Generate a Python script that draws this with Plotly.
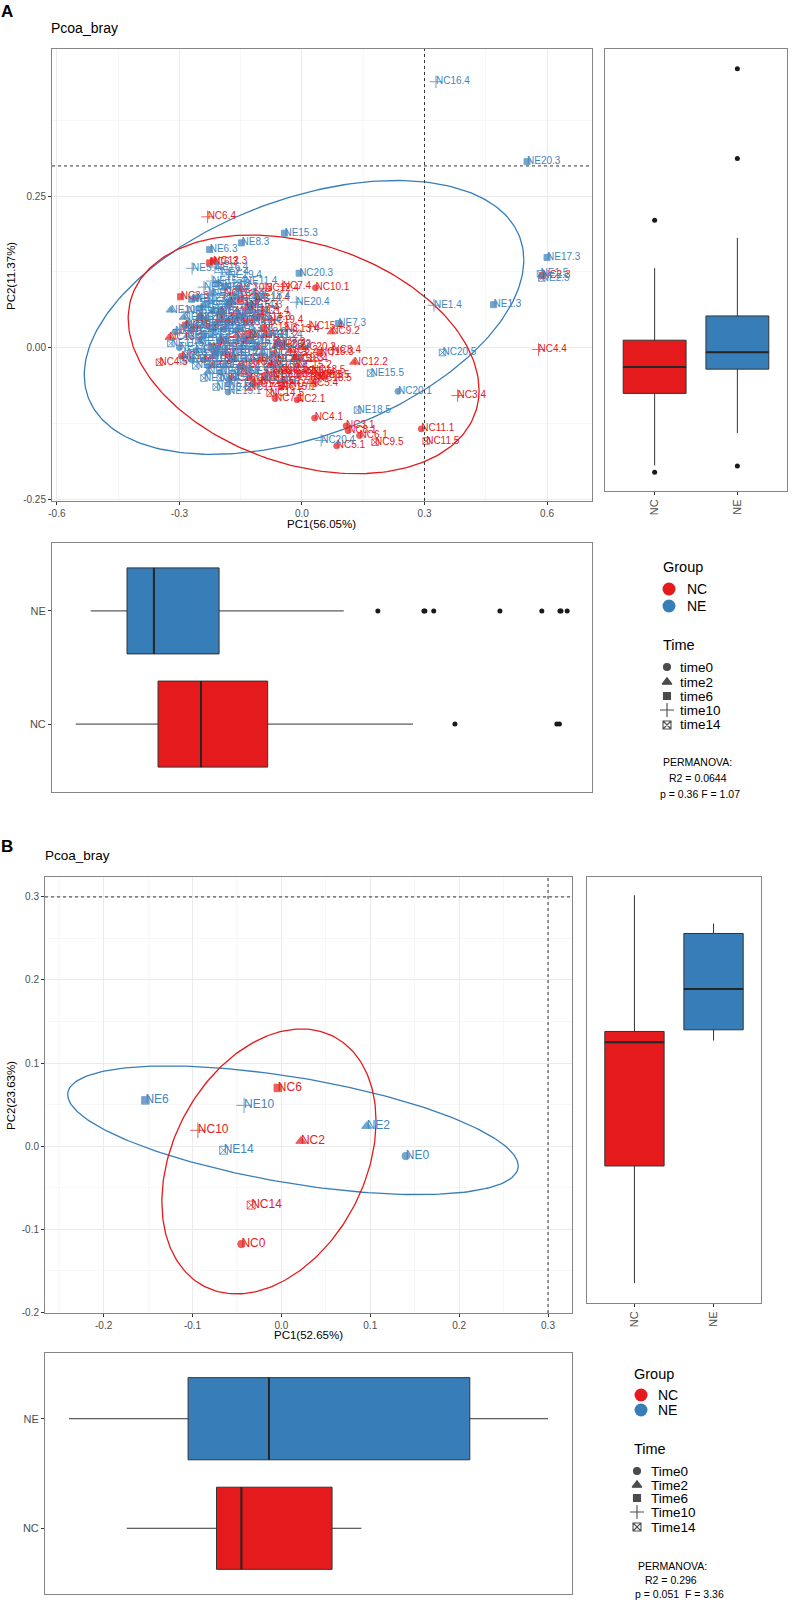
import numpy as np
import plotly.graph_objects as go

W, H = 794, 1603
RED = "#E41A1C"
BLUE = "#377EB8"
FONT = "Liberation Sans, Arial, sans-serif"
GRID = "#EBEBEB"
MINOR = "#F3F3F3"
FRAME = "#858585"
TICKC = "#4D4D4D"
BOXLINE = "#333333"

# ===================== PANEL A : PCoA scores =====================
a_ne_labels = [
    "NE1.1", "NE2.1", "NE3.1", "NE4.1", "NE5.1", "NE6.1", "NE7.1", "NE8.1", "NE9.1", "NE10.1",
    "NE11.1", "NE12.1", "NE13.1", "NE14.1", "NE15.1", "NE16.1", "NE17.1", "NE18.1", "NE19.1", "NC20.1",
    "NE1.2", "NE2.2", "NE3.2", "NE4.2", "NE5.2", "NE6.2", "NE7.2", "NE8.2", "NE9.2", "NE10.2",
    "NE11.2", "NE12.2", "NE13.2", "NE14.2", "NE15.2", "NE16.2", "NE17.2", "NE18.2", "NE19.2", "NE20.2",
    "NE1.3", "NE2.3", "NE3.3", "NE4.3", "NE5.3", "NE6.3", "NE7.3", "NE8.3", "NE9.3", "NE10.3",
    "NE11.3", "NE12.3", "NE13.3", "NE14.3", "NE15.3", "NE16.3", "NE17.3", "NE18.3", "NE19.3", "NE20.3", "NC20.3",
    "NE1.4", "NE2.4", "NE3.4", "NE4.4", "NE5.4", "NE6.4", "NE7.4", "NE8.4", "NE9.4", "NE10.4",
    "NE11.4", "NE12.4", "NE13.4", "NE14.4", "NE15.4", "NE16.4", "NE17.4", "NE18.4", "NE19.4", "NE20.4", "NC16.4", "NC20.4",
    "NE1.5", "NE2.5", "NE3.5", "NE4.5", "NE5.5", "NE6.5", "NE7.5", "NE8.5", "NE9.5", "NE10.5",
    "NE11.5", "NE12.5", "NE13.5", "NE14.5", "NE15.5", "NE16.5", "NE17.5", "NE18.5", "NE19.5", "NE20.5", "NC20.5",
]
a_ne_pc1 = [
    -0.24, -0.21, -0.27, -0.19, -0.23, -0.16, -0.28, -0.20, -0.311, -0.25,
    -0.14, -0.22, -0.30, -0.18, -0.181, -0.12, -0.26, -0.23, -0.17, 0.235,
    -0.25, -0.17, -0.21, -0.13, -0.28, -0.19, -0.15, -0.24, -0.10, -0.322,
    -0.22, -0.29, -0.16, -0.20, -0.07, -0.09, -0.26, -0.12, -0.23, -0.06,
    0.469, -0.22, -0.18, -0.25, -0.15, -0.226, 0.089, -0.148, -0.20, -0.27,
    -0.17, -0.26, -0.24, -0.13, -0.043, -0.21, 0.600, -0.208, -0.189, 0.551, -0.007,
    0.323, -0.198, -0.24, -0.16, -0.269, -0.28, -0.19, -0.12, -0.23, -0.26,
    -0.14, -0.20, -0.08, -0.17, -0.22, -0.213, -0.30, -0.11, -0.18, -0.014, 0.328, 0.047,
    0.584, 0.587, -0.26, -0.20, -0.23, -0.15, -0.11, -0.28, -0.17, -0.24,
    -0.321, -0.19, -0.13, -0.22, 0.168, -0.29, -0.08, 0.136, -0.21, -0.16, 0.344,
]
a_ne_pc2 = [
    0.020, -0.010, -0.020, 0.030, -0.030, 0.010, 0.040, -0.040, 0.026, 0.050,
    -0.020, 0.060, 0.000, -0.060, -0.073, 0.000, -0.005, 0.035, 0.045, -0.072,
    0.010, -0.020, 0.040, 0.060, 0.020, -0.030, 0.000, 0.070, -0.010, 0.062,
    -0.015, 0.050, 0.030, 0.015, -0.030, -0.051, 0.035, 0.025, -0.040, 0.005,
    0.071, 0.090, 0.075, 0.065, 0.050, 0.162, 0.040, 0.173, 0.055, 0.080,
    0.085, 0.082, 0.045, 0.070, 0.189, -0.005, 0.149, 0.105, 0.100, 0.307, 0.123,
    0.070, 0.124, 0.100, 0.090, 0.131, 0.060, 0.065, 0.045, 0.075, 0.015,
    0.110, 0.030, 0.020, -0.010, 0.110, 0.133, 0.030, 0.085, 0.120, 0.075, 0.439, -0.153,
    0.122, 0.115, -0.030, -0.050, 0.000, -0.035, 0.015, -0.010, -0.045, -0.050,
    0.007, 0.005, -0.040, 0.025, -0.042, -0.020, -0.020, -0.103, -0.065, 0.055, -0.008,
]

a_nc_labels = [
    "NC1.1", "NC2.1", "NC3.1", "NC4.1", "NC5.1", "NC6.1", "NC7.1", "NC8.1", "NC9.1", "NC10.1",
    "NC11.1", "NC12.1", "NC13.1", "NC14.1", "NC15.1", "NC16.1", "NC17.1", "NC18.1", "NC19.1",
    "NC1.2", "NC2.2", "NC3.2", "NC4.2", "NC5.2", "NC6.2", "NC7.2", "NC8.2", "NC9.2", "NC10.2",
    "NC11.2", "NC12.2", "NC13.2", "NC14.2", "NC15.2", "NC16.2", "NC17.2", "NC18.2", "NC19.2", "NC20.2",
    "NC1.3", "NC2.3", "NC3.3", "NC4.3", "NC5.3", "NC6.3", "NC7.3", "NC8.3", "NC9.3", "NC10.3",
    "NC11.3", "NC12.3", "NC13.3", "NC14.3", "NC15.3", "NC16.3", "NC17.3", "NC18.3", "NC19.3",
    "NC1.4", "NC2.4", "NC3.4", "NC4.4", "NC5.4", "NC6.4", "NC7.4", "NC8.4", "NC9.4", "NC10.4",
    "NC11.4", "NC12.4", "NC13.4", "NC14.4", "NC15.4", "NC17.4", "NC18.4", "NC19.4",
    "NC1.5", "NC2.5", "NC3.5", "NC4.5", "NC5.5", "NC6.5", "NC7.5", "NC8.5", "NC9.5", "NC10.5",
    "NC11.5", "NC12.5", "NC13.5", "NC14.5", "NC15.5", "NC16.5", "NC17.5", "NC18.5", "NC19.5",
]
a_nc_pc1 = [
    -0.184, -0.012, 0.108, 0.031, 0.085, 0.141, -0.066, 0.113, -0.137, 0.033,
    0.292, -0.12, -0.09, -0.20, -0.05, -0.176, -0.15, -0.24, -0.295,
    -0.08, -0.16, -0.04, -0.11, -0.22, -0.03, -0.13, -0.06, 0.072, -0.19,
    -0.09, 0.127, -0.325, -0.27, -0.01, -0.14, -0.05, -0.20, -0.10, 0.00,
    -0.176, 0.588, -0.297, -0.15, -0.127, -0.226, -0.061, -0.047, -0.017, -0.155,
    -0.20, -0.217, -0.094, -0.11, -0.285, -0.07, -0.13, 0.044, -0.25,
    -0.10, -0.16, 0.381, 0.579, 0.019, -0.231, -0.047, 0.075, 0.012, -0.07,
    -0.19, -0.09, -0.04, -0.113, 0.019, -0.14, -0.02, -0.08,
    -0.15, -0.054, -0.12, -0.349, 0.031, -0.071, -0.03, 0.047, 0.179, -0.10,
    0.304, -0.18, 0.023, -0.078, -0.01, -0.06, -0.13, 0.039, -0.22,
]
a_nc_pc2 = [
    0.042, -0.086, -0.129, -0.116, -0.162, -0.145, -0.084, -0.137, 0.041, 0.099,
    -0.134, -0.060, -0.045, 0.010, -0.065, -0.051, -0.030, -0.020, -0.014,
    -0.030, 0.020, -0.040, 0.000, -0.030, -0.005, -0.050, 0.005, 0.026, -0.010,
    0.020, -0.024, 0.017, 0.030, -0.030, 0.010, -0.055, 0.045, -0.020, 0.000,
    0.075, 0.119, 0.084, 0.080, 0.070, 0.140, 0.009, 0.004, -0.018, 0.098,
    0.060, 0.143, 0.032, 0.050, 0.037, -0.010, 0.020, -0.008, 0.050,
    0.060, 0.055, -0.079, -0.003, -0.059, 0.216, 0.101, -0.004, -0.041, -0.040,
    0.090, 0.098, 0.030, 0.081, 0.035, 0.065, -0.020, 0.045,
    -0.040, -0.034, -0.025, -0.024, -0.046, -0.046, -0.060, -0.046, -0.156, -0.055,
    -0.154, -0.020, -0.038, -0.075, -0.045, -0.020, -0.065, -0.051, 0.000,
]

# 95% ellipses: centre, half-widths and correlation
a_ell_nc = dict(cx=0.004, cy=-0.011, sx=0.4295, sy=0.197, rho=-0.30)
a_ell_ne = dict(cx=0.005, cy=0.050, sx=0.538, sy=0.226, rho=0.42)

# Panel A box statistics  (order: NC, NE)
groups = ["NC", "NE"]
a_pc2_low = [-0.151, -0.103]
a_pc2_q1 = [-0.044, -0.008]
a_pc2_med = [-0.005, 0.017]
a_pc2_q3 = [0.035, 0.071]
a_pc2_high = [0.142, 0.187]
a_pc2_out_nc = [0.213, -0.161]
a_pc2_out_ne = [0.438, 0.305, -0.152]

a_pc1_low = [-0.350, -0.321]
a_pc1_q1 = [-0.191, -0.251]
a_pc1_med = [-0.108, -0.199]
a_pc1_q3 = [0.021, -0.073]
a_pc1_high = [0.302, 0.168]
a_pc1_out_nc = [0.383, 0.580, 0.585]
a_pc1_out_ne = [0.234, 0.323, 0.325, 0.342, 0.470, 0.551, 0.586, 0.588, 0.600]

a_time_names = ["time0", "time2", "time6", "time10", "time14"]
a_stats = ["PERMANOVA:", "R2 = 0.0644", "p = 0.36 F = 1.07"]

# ===================== PANEL B =====================
b_nc_labels = ["NC0", "NC2", "NC6", "NC10", "NC14"]
b_nc_pc1 = [-0.045, 0.022, -0.004, -0.094, -0.034]
b_nc_pc2 = [-0.118, 0.006, 0.070, 0.019, -0.071]
b_ne_labels = ["NE0", "NE2", "NE6", "NE10", "NE14"]
b_ne_pc1 = [0.140, 0.096, -0.153, -0.042, -0.065]
b_ne_pc2 = [-0.012, 0.024, 0.055, 0.049, -0.005]

b_ell_nc = dict(cx=-0.014, cy=-0.0185, sx=0.1205, sy=0.1595, rho=0.304)
b_ell_ne = dict(cx=0.013, cy=0.019, sx=0.2535, sy=0.0775, rho=-0.555)

b_pc2_low = [-0.166, 0.126]
b_pc2_q1 = [-0.025, 0.139]
b_pc2_med = [0.124, 0.188]
b_pc2_q3 = [0.137, 0.255]
b_pc2_high = [0.301, 0.267]

b_pc1_low = [-0.174, -0.239]
b_pc1_q1 = [-0.073, -0.105]
b_pc1_med = [-0.045, -0.014]
b_pc1_q3 = [0.057, 0.212]
b_pc1_high = [0.090, 0.300]

b_time_names = ["Time0", "Time2", "Time6", "Time10", "Time14"]
b_stats = ["PERMANOVA:", "R2 = 0.296", "p = 0.051  F = 3.36"]

ref_line = 0.3  # dotted reference lines in both PCoA panels

# ===================== helpers =====================
A_SYM = {1: "circle", 2: "triangle-up", 3: "square", 4: "cross-thin", 5: "square-x-open"}
A_SIZE = {1: 6, 2: 7.5, 3: 6, 4: 9, 5: 6.5}
B_SYM = {0: "circle", 2: "triangle-up", 6: "square", 10: "cross-thin", 14: "square-x-open"}
B_SIZE = {0: 7.5, 2: 9, 6: 7.5, 10: 11, 14: 8}
LEG_SYM = ["circle", "triangle-up", "square", "cross-thin", "square-x-open"]
LEG_SIZE = [7, 8.5, 7, 10, 8]


def a_key(lbl):
    return int(lbl.split(".")[1])


def b_key(lbl):
    return int(lbl[2:])


def dom_x(a, b):
    return [a / W, b / W]


def dom_y(top, bot):
    return [1 - bot / H, 1 - top / H]


fig = go.Figure()


def ellipse_trace(p, color, xa, ya):
    t = np.linspace(0, 2 * np.pi, 241)
    x = p["cx"] + p["sx"] * np.cos(t)
    y = p["cy"] + p["sy"] * (p["rho"] * np.cos(t) + np.sqrt(1 - p["rho"] ** 2) * np.sin(t))
    return go.Scatter(x=x, y=y, mode="lines", line=dict(color=color, width=1.3),
                      xaxis=xa, yaxis=ya, hoverinfo="skip", showlegend=False)


def marker_trace(xs, ys, labels, color, sym, size, key, xa, ya):
    return go.Scatter(
        x=xs, y=ys, mode="markers", xaxis=xa, yaxis=ya, hoverinfo="skip", showlegend=False,
        marker=dict(symbol=[sym[key(l)] for l in labels], size=[size[key(l)] for l in labels],
                    color=color, line=dict(color=color, width=1)))


def text_trace(xs, ys, labels, color, fsize, xa, ya):
    return go.Scatter(x=xs, y=ys, mode="text", text=labels, textposition="middle right",
                      textfont=dict(family=FONT, size=fsize, color=color),
                      xaxis=xa, yaxis=ya, hoverinfo="skip", showlegend=False)


def add_boxes(low, q1, med, q3, high, outs, horiz, xa, ya, w):
    pos = [1, 2]
    colors = [RED, BLUE]
    for i in range(2):
        kw = dict(lowerfence=[low[i]], q1=[q1[i]], median=[med[i]], q3=[q3[i]],
                  upperfence=[high[i]], width=w, fillcolor=colors[i],
                  line=dict(color=BOXLINE, width=1), whiskerwidth=0, boxpoints=False,
                  xaxis=xa, yaxis=ya, hoverinfo="skip", showlegend=False)
        if horiz:
            fig.add_trace(go.Box(y=[pos[i]], orientation="h", **kw))
            mx, my = [med[i], med[i]], [pos[i] - w / 2, pos[i] + w / 2]
        else:
            fig.add_trace(go.Box(x=[pos[i]], orientation="v", **kw))
            mx, my = [pos[i] - w / 2, pos[i] + w / 2], [med[i], med[i]]
        fig.add_trace(go.Scatter(x=mx, y=my, mode="lines", line=dict(color="#262626", width=2),
                                 xaxis=xa, yaxis=ya, hoverinfo="skip", showlegend=False))
        if outs and outs[i]:
            o = outs[i]
            ox, oy = (o, [pos[i]] * len(o)) if horiz else ([pos[i]] * len(o), o)
            fig.add_trace(go.Scatter(x=ox, y=oy, mode="markers",
                                     marker=dict(color="#1A1A1A", size=5),
                                     xaxis=xa, yaxis=ya, hoverinfo="skip", showlegend=False))


# ---------------- Panel A scatter ----------------
fig.add_trace(ellipse_trace(a_ell_ne, BLUE, "x", "y"))
fig.add_trace(ellipse_trace(a_ell_nc, RED, "x", "y"))
fig.add_trace(marker_trace(a_nc_pc1, a_nc_pc2, a_nc_labels, RED, A_SYM, A_SIZE, a_key, "x", "y"))
fig.add_trace(marker_trace(a_ne_pc1, a_ne_pc2, a_ne_labels, BLUE, A_SYM, A_SIZE, a_key, "x", "y"))
fig.add_trace(text_trace(a_nc_pc1, a_nc_pc2, a_nc_labels, RED, 10, "x", "y"))
fig.add_trace(text_trace(a_ne_pc1, a_ne_pc2, a_ne_labels, "#3F86C0", 10, "x", "y"))

add_boxes(a_pc2_low, a_pc2_q1, a_pc2_med, a_pc2_q3, a_pc2_high,
          [a_pc2_out_nc, a_pc2_out_ne], False, "x2", "y2", 0.76)
add_boxes(a_pc1_low, a_pc1_q1, a_pc1_med, a_pc1_q3, a_pc1_high,
          [a_pc1_out_nc, a_pc1_out_ne], True, "x3", "y3", 0.76)

# ---------------- Panel B scatter ----------------
fig.add_trace(ellipse_trace(b_ell_ne, BLUE, "x4", "y4"))
fig.add_trace(ellipse_trace(b_ell_nc, RED, "x4", "y4"))
fig.add_trace(marker_trace(b_nc_pc1, b_nc_pc2, b_nc_labels, RED, B_SYM, B_SIZE, b_key, "x4", "y4"))
fig.add_trace(marker_trace(b_ne_pc1, b_ne_pc2, b_ne_labels, BLUE, B_SYM, B_SIZE, b_key, "x4", "y4"))
fig.add_trace(text_trace(b_nc_pc1, b_nc_pc2, b_nc_labels, RED, 12, "x4", "y4"))
fig.add_trace(text_trace(b_ne_pc1, b_ne_pc2, b_ne_labels, "#3F86C0", 12, "x4", "y4"))

add_boxes(b_pc2_low, b_pc2_q1, b_pc2_med, b_pc2_q3, b_pc2_high, None, False, "x5", "y5", 0.75)
add_boxes(b_pc1_low, b_pc1_q1, b_pc1_med, b_pc1_q3, b_pc1_high, None, True, "x6", "y6", 0.75)

# ---------------- legends (drawn on a pixel overlay axis) ----------------
legend_cfg = [
    (669, [589, 606], 667, [667, 682, 696, 710, 725]),
    (641, [1395, 1410], 637, [1471, 1485, 1498, 1512, 1527]),
]
for gx, gys, tx, tys in legend_cfg:
    fig.add_trace(go.Scatter(x=[gx, gx], y=gys, mode="markers", xaxis="x7", yaxis="y7",
                             marker=dict(size=13, color=[RED, BLUE]),
                             hoverinfo="skip", showlegend=False, cliponaxis=False))
    fig.add_trace(go.Scatter(x=[tx] * len(tys), y=tys, mode="markers", xaxis="x7", yaxis="y7",
                             marker=dict(symbol=LEG_SYM, size=LEG_SIZE, color="#000000",
                                         line=dict(color="#000000", width=1.1)),
                             hoverinfo="skip", showlegend=False, cliponaxis=False))

# ---------------- axes ----------------
tickfont = dict(family=FONT, size=10, color=TICKC)


def frame(**kw):
    base = dict(showline=True, linecolor=FRAME, linewidth=1, mirror=True, zeroline=False,
                ticks="outside", ticklen=3, tickcolor="#333333", tickwidth=1, tickfont=tickfont,
                automargin=False)
    base.update(kw)
    return base


def grid(minor_vals):
    return dict(showgrid=True, gridcolor=GRID, gridwidth=1,
                minor=dict(tickvals=minor_vals, showgrid=True, gridcolor=MINOR, gridwidth=0.7, ticks=""))


cat_ticks = dict(tickvals=[1, 2], ticktext=groups, tickfont=dict(family=FONT, size=11, color=TICKC))
layout_axes = dict(
    xaxis=frame(domain=dom_x(52, 592), range=[-0.612, 0.710], anchor="y",
                tickvals=[-0.6, -0.3, 0, 0.3, 0.6], ticktext=["-0.6", "-0.3", "0.0", "0.3", "0.6"],
                **grid([-0.45, -0.15, 0.15, 0.45])),
    yaxis=frame(domain=dom_y(49, 501), range=[-0.253, 0.493], anchor="x",
                tickvals=[-0.25, 0, 0.25], ticktext=["-0.25", "0.00", "0.25"],
                **grid([-0.125, 0.125, 0.375])),
    xaxis2=frame(domain=dom_x(605, 787), range=[0.4, 2.6], anchor="y2", showgrid=False,
                 tickangle=-90, **cat_ticks),
    yaxis2=frame(domain=dom_y(49, 491), range=[-0.189, 0.4675], anchor="x2", showgrid=False,
                 showticklabels=False, ticks=""),
    xaxis3=frame(domain=dom_x(52, 592), range=[-0.396, 0.648], anchor="y3", showgrid=False,
                 showticklabels=False, ticks=""),
    yaxis3=frame(domain=dom_y(543, 792), range=[0.4, 2.6], anchor="x3", showgrid=False, **cat_ticks),
    xaxis4=frame(domain=dom_x(45, 572), range=[-0.266, 0.327], anchor="y4",
                 tickvals=[-0.2, -0.1, 0, 0.1, 0.2, 0.3],
                 ticktext=["-0.2", "-0.1", "0.0", "0.1", "0.2", "0.3"],
                 **grid([-0.25, -0.15, -0.05, 0.05, 0.15, 0.25])),
    yaxis4=frame(domain=dom_y(877, 1313), range=[-0.201, 0.324], anchor="x4",
                 tickvals=[-0.2, -0.1, 0, 0.1, 0.2, 0.3],
                 ticktext=["-0.2", "-0.1", "0.0", "0.1", "0.2", "0.3"],
                 **grid([-0.15, -0.05, 0.05, 0.15, 0.25])),
    xaxis5=frame(domain=dom_x(587, 761), range=[0.4, 2.6], anchor="y5", showgrid=False,
                 tickangle=-90, **cat_ticks),
    yaxis5=frame(domain=dom_y(877, 1303), range=[-0.190, 0.323], anchor="x5", showgrid=False,
                 showticklabels=False, ticks=""),
    xaxis6=frame(domain=dom_x(45, 572), range=[-0.266, 0.327], anchor="y6", showgrid=False,
                 showticklabels=False, ticks=""),
    yaxis6=frame(domain=dom_y(1353, 1594), range=[0.4, 2.6], anchor="x6", showgrid=False, **cat_ticks),
    xaxis7=dict(domain=[0, 1], range=[0, W], visible=False, anchor="y7", fixedrange=True,
                automargin=False),
    yaxis7=dict(domain=[0, 1], range=[H, 0], visible=False, anchor="x7", fixedrange=True,
                automargin=False),
)

# dotted reference lines
shapes = []
for xa, ya in [("x", "y"), ("x4", "y4")]:
    shapes.append(dict(type="line", xref=xa, yref=ya + " domain", x0=ref_line, x1=ref_line, y0=0, y1=1,
                       line=dict(color="#333333", width=1, dash="dot"), layer="above"))
    shapes.append(dict(type="line", xref=xa + " domain", yref=ya, x0=0, x1=1, y0=ref_line, y1=ref_line,
                       line=dict(color="#333333", width=1, dash="dot"), layer="above"))


# ---------------- annotations ----------------
def ann(text, px, py, size, xanchor="left", color="#000000", angle=0):
    return dict(text=text, x=px / W, y=1 - py / H, xref="paper", yref="paper", showarrow=False,
                xanchor=xanchor, yanchor="middle", textangle=angle, borderpad=0,
                font=dict(family=FONT, size=size, color=color))


anns = [
    ann("<b>A</b>", 0, 11, 17),
    ann("Pcoa_bray", 50, 28, 14),
    ann("PC1(56.05%)", 321, 524, 11.5, "center"),
    ann("PC2(11.37%)", 11, 276, 11.5, "center", angle=-90),
    ann("<b>B</b>", 0, 846, 17),
    ann("Pcoa_bray", 44, 855, 13.5),
    ann("PC1(52.65%)", 308, 1335, 11.5, "center"),
    ann("PC2(23.63%)", 11, 1096, 11.5, "center", angle=-90),
]
leg_text = [
    (662, 567, 686, [589, 606], 679, [667, 682, 696, 710, 725], a_time_names, 645,
     a_stats, [(662, 762, "left"), (698, 778, "center"), (659, 794, "left")]),
    (633, 1374, 657, [1395, 1410], 650, [1471, 1485, 1498, 1512, 1527], b_time_names, 1449,
     b_stats, [(637, 1566, "left"), (671, 1580, "center"), (634, 1594, "left")]),
]
for tx, ty, gx, gys, tlx, tys, names, timey, stats, spos in leg_text:
    anns.append(ann("Group", tx, ty, 14.5))
    for g, yy in zip(groups, gys):
        anns.append(ann(g, gx, yy, 14))
    anns.append(ann("Time", tx, timey, 14.5))
    for n, yy in zip(names, tys):
        anns.append(ann(n, tlx, yy, 13.5))
    for s, (sx, sy, anc) in zip(stats, spos):
        anns.append(ann(s, sx, sy, 10.5, anc))

fig.update_layout(
    width=W, height=H, margin=dict(l=0, r=0, t=0, b=0, autoexpand=False),
    paper_bgcolor="white", plot_bgcolor="rgba(0,0,0,0)",
    showlegend=False, boxmode="overlay", hovermode=False, dragmode=False,
    shapes=shapes, annotations=anns, **layout_axes,
)

# remove the browser's default 8px page margin so the figure sits at the window origin
fig.write_html("out.html",
               config={"displayModeBar": False, "staticPlot": True},
               post_script="document.body.style.margin='0';document.body.style.padding='0';")
